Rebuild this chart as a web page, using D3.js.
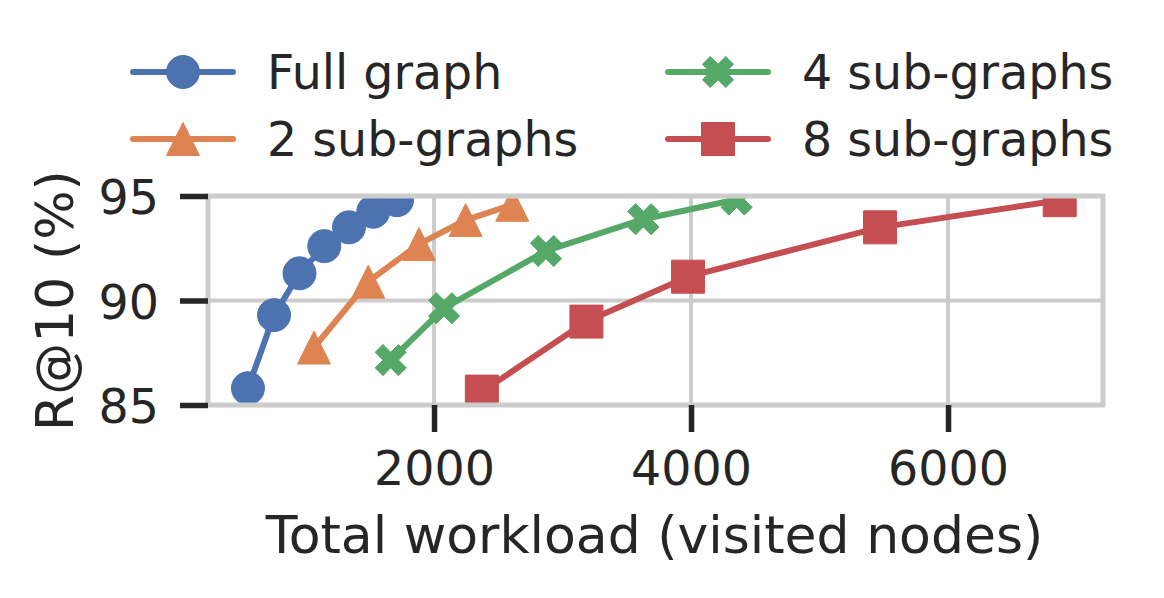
<!DOCTYPE html>
<html>
<head>
<meta charset="utf-8">
<script src="https://cdn.jsdelivr.net/npm/d3@7"></script>
<style>
  html, body { margin: 0; padding: 0; background: #fff; }
  svg { display: block; font-family: "DejaVu Sans", sans-serif; }
</style>
</head>
<body>
<svg id="chart" width="1164" height="598"></svg>
<script>
// ---- data ----
const seriesNames = ["Full graph", "2 sub-graphs", "4 sub-graphs", "8 sub-graphs"];
const fullGraphX = [552, 755, 953, 1146, 1338, 1527, 1712];
const fullGraphY = [85.8, 89.3, 91.3, 92.6, 93.5, 94.25, 94.8];
const sub2X = [1066, 1488, 1883, 2246, 2609];
const sub2Y = [87.75, 90.9, 92.7, 93.85, 94.58];
const sub4X = [1663, 2078, 2871, 3629, 4355];
const sub4Y = [87.15, 89.63, 92.37, 93.89, 94.83];
const sub8X = [2372, 3186, 3977, 5471, 6869];
const sub8Y = [85.64, 88.99, 91.14, 93.5, 94.8];
const xTicks = [2000, 4000, 6000];
const yTicks = [85, 90, 95];
const xLabel = "Total workload (visited nodes)";
const yLabel = "R@10 (%)";

const colors = ["#4c72b0", "#dd8452", "#55a868", "#c44e52"];
const markers = ["circle", "triangle", "x", "square"];
const seriesX = [fullGraphX, sub2X, sub4X, sub8X];
const seriesY = [fullGraphY, sub2Y, sub4Y, sub8Y];

// ---- layout ----
const L = 208, R = 1103, T = 196, B = 405;
const svg = d3.select("#chart");
svg.append("rect").attr("width", 1164).attr("height", 598).attr("fill", "#fff");

const x = d3.scaleLinear().domain([241, 7206]).range([L, R]);
const y = d3.scaleLinear().domain([85, 95]).range([B, T]);

const ink = "#262626";
const grid = "#cccccc";

// grid
const g = svg.append("g");
g.selectAll(".vg").data(xTicks).join("line")
  .attr("x1", d => x(d)).attr("x2", d => x(d)).attr("y1", T).attr("y2", B)
  .attr("stroke", grid).attr("stroke-width", 4);
g.selectAll(".hg").data(yTicks).join("line")
  .attr("y1", d => y(d)).attr("y2", d => y(d)).attr("x1", L).attr("x2", R)
  .attr("stroke", grid).attr("stroke-width", 4);

// clip
svg.append("defs").append("clipPath").attr("id", "clip")
  .append("rect").attr("x", L).attr("y", T).attr("width", R - L).attr("height", B - T);

const S = 33; // marker size
function markerPath(type, s) {
  const h = s / 2;
  if (type === "circle") {
    const p = d3.path(); p.arc(0, 0, h, 0, 2 * Math.PI); p.closePath(); return p.toString();
  }
  if (type === "triangle") {
    return `M0,${-h}L${-h},${h}L${h},${h}Z`;
  }
  if (type === "square") {
    return `M${-h},${-h}H${h}V${h}H${-h}Z`;
  }
  if (type === "x") {
    const pts = [[-1,-3],[1,-3],[1,-1],[3,-1],[3,1],[1,1],[1,3],[-1,3],[-1,1],[-3,1],[-3,-1],[-1,-1]]
      .map(([a, b]) => [a / 6 * s, b / 6 * s])
      .map(([a, b]) => [(a - b) / Math.SQRT2, (a + b) / Math.SQRT2]);
    return "M" + pts.map(p => p[0].toFixed(2) + "," + p[1].toFixed(2)).join("L") + "Z";
  }
}

const plot = svg.append("g").attr("clip-path", "url(#clip)");
const line = d3.line().x(d => x(d[0])).y(d => y(d[1]));
seriesNames.forEach((name, i) => {
  const pts = seriesX[i].map((v, j) => [v, seriesY[i][j]]);
  plot.append("path").datum(pts).attr("d", line)
    .attr("fill", "none").attr("stroke", colors[i]).attr("stroke-width", 6)
    .attr("stroke-linejoin", "round").attr("stroke-linecap", "round");
  plot.selectAll(null).data(pts).join("path")
    .attr("transform", d => `translate(${x(d[0])},${y(d[1])})`)
    .attr("d", markerPath(markers[i], S))
    .attr("fill", colors[i]).attr("stroke", colors[i]).attr("stroke-width", 1);
});

// spines
svg.append("rect").attr("x", L).attr("y", T).attr("width", R - L).attr("height", B - T)
  .attr("fill", "none").attr("stroke", grid).attr("stroke-width", 5);

// axes
const fs = 47.5;
const xAxis = d3.axisBottom(x).tickValues(xTicks).tickSize(27).tickPadding(19).tickFormat(d3.format("d"));
const xa = svg.append("g").attr("transform", `translate(0,${B})`).call(xAxis);
const yAxis = d3.axisLeft(y).tickValues(yTicks).tickSize(28).tickPadding(21).tickFormat(d3.format("d"));
const ya = svg.append("g").attr("transform", `translate(${L},0)`).call(yAxis);
[xa, ya].forEach(a => {
  a.select(".domain").remove();
  a.selectAll(".tick line").attr("stroke", ink).attr("stroke-width", 5.5);
  a.selectAll(".tick text").attr("fill", ink).attr("font-size", fs)
    .attr("font-family", "DejaVu Sans");
});
ya.selectAll(".tick text").attr("dy", "0.37em");

// axis labels
svg.append("text").attr("x", (L + R) / 2 - 1).attr("y", 553).attr("text-anchor", "middle")
  .attr("font-size", 52).attr("fill", ink).text(xLabel);
svg.append("text").attr("transform", `translate(73,${(T + B) / 2}) rotate(-90)`)
  .attr("text-anchor", "middle").attr("font-size", 52).attr("fill", ink).text(yLabel);

// legend (2 columns, column-major order)
const legCols = [133, 668];
const legRows = [72, 139];
seriesNames.forEach((name, i) => {
  const col = Math.floor(i / 2), row = i % 2;
  const lx = legCols[col], ly = legRows[row];
  const lg = svg.append("g");
  lg.append("line").attr("x1", lx).attr("x2", lx + 100).attr("y1", ly).attr("y2", ly)
    .attr("stroke", colors[i]).attr("stroke-width", 6).attr("stroke-linecap", "round");
  lg.append("path").attr("transform", `translate(${lx + 50},${ly})`)
    .attr("d", markerPath(markers[i], S)).attr("fill", colors[i]).attr("stroke", colors[i]).attr("stroke-width", 1);
  lg.append("text").attr("x", lx + 134).attr("y", ly + 16.5).attr("font-size", fs)
    .attr("fill", ink).text(name);
});
</script>
</body>
</html>
